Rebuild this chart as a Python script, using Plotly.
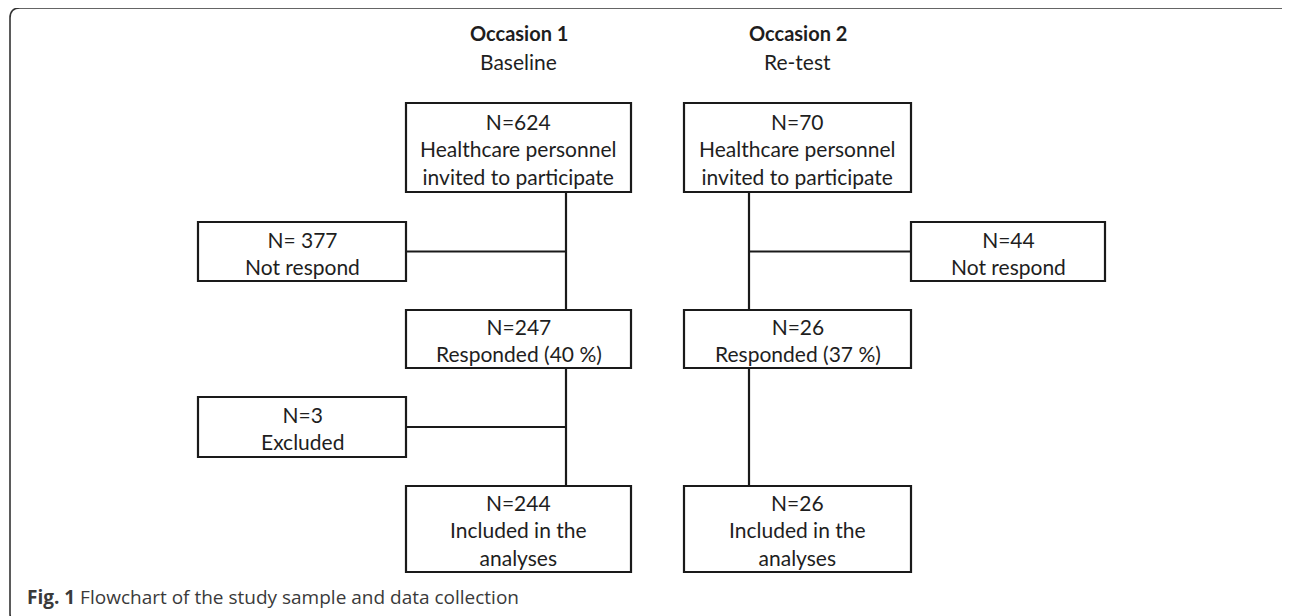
import plotly.graph_objects as go

# ---- content ----
headers_bold = ["Occasion 1", "Occasion 2"]
headers_sub = ["Baseline", "Re-test"]

main_left_n = ["N=624", "N=247", "N=244"]
main_left_txt = ["Healthcare personnel<br>invited to participate", "Responded (40 %)", "Included in the<br>analyses"]
main_right_n = ["N=70", "N=26", "N=26"]
main_right_txt = ["Healthcare personnel<br>invited to participate", "Responded (37 %)", "Included in the<br>analyses"]

side_left_n = ["N= 377", "N=3"]
side_left_txt = ["Not respond", "Excluded"]
side_right_n = ["N=44"]
side_right_txt = ["Not respond"]

caption_bold = "Fig. 1"
caption_text = "Flowchart of the study sample and data collection"

# ---- layout geometry (page pixels) ----
W, H = 1290, 616
OFF = 8  # page body margin
col_left = (406, 631)
col_right = (684, 911)
rows_y = [(103, 192), (310, 368), (486, 572)]
side_left_x = (198, 406)
side_left_y = [(222, 281), (397, 457)]
side_right_x = (911, 1105)
side_right_y = [(222, 281)]
stem_left_x = 566
stem_right_x = 749

TXT = "#1e1e1e"
LINE = "#1a1a1a"
FONT = "Lato, 'Open Sans', sans-serif"
FS = 21

fig = go.Figure()
shapes = []
annotations = []

def box(x0, x1, y0, y1, text):
    shapes.append(dict(type="rect", xref="x", yref="y", x0=x0, x1=x1, y0=y0, y1=y1,
                       line=dict(color=LINE, width=2.2), fillcolor="rgba(0,0,0,0)"))
    annotations.append(dict(x=(x0 + x1) / 2, y=(y0 + y1) / 2 + 1, xref="x", yref="y",
                            text=text, showarrow=False, font=dict(family=FONT, size=FS, color=TXT),
                            align="center", xanchor="center", yanchor="middle"))

def line(x0, y0, x1, y1):
    shapes.append(dict(type="line", xref="x", yref="y", x0=x0, y0=y0, x1=x1, y1=y1,
                       line=dict(color=LINE, width=2.2)))

for (y0, y1), n, t in zip(rows_y, main_left_n, main_left_txt):
    box(col_left[0], col_left[1], y0, y1, n + "<br>" + t)
for (y0, y1), n, t in zip(rows_y, main_right_n, main_right_txt):
    box(col_right[0], col_right[1], y0, y1, n + "<br>" + t)
for (y0, y1), n, t in zip(side_left_y, side_left_n, side_left_txt):
    box(side_left_x[0], side_left_x[1], y0, y1, n + "<br>" + t)
    line(side_left_x[1], (y0 + y1) / 2, stem_left_x, (y0 + y1) / 2)
for (y0, y1), n, t in zip(side_right_y, side_right_n, side_right_txt):
    box(side_right_x[0], side_right_x[1], y0, y1, n + "<br>" + t)
    line(stem_right_x - 1, (y0 + y1) / 2, side_right_x[0], (y0 + y1) / 2)

# stems
for i in range(len(rows_y) - 1):
    line(stem_left_x, rows_y[i][1], stem_left_x, rows_y[i + 1][0])
    line(stem_right_x, rows_y[i][1], stem_right_x, rows_y[i + 1][0])

# headers
for cx, hb, hs in zip([(col_left[0] + col_left[1]) / 2, (col_right[0] + col_right[1]) / 2],
                      headers_bold, headers_sub):
    annotations.append(dict(x=cx, y=33, xref="x", yref="y", text="<b>" + hb + "</b>", showarrow=False,
                            font=dict(family=FONT, size=20, color=TXT), xanchor="center", yanchor="middle"))
    annotations.append(dict(x=cx, y=61, xref="x", yref="y", text=hs, showarrow=False,
                            font=dict(family=FONT, size=FS, color=TXT), xanchor="center", yanchor="middle"))

# caption
annotations.append(dict(x=25, y=597, xref="x", yref="y",
                        text="<b>" + caption_bold + "</b> " + caption_text, showarrow=False,
                        font=dict(family="'Open Sans', sans-serif", size=19, color="#3a3a3a"),
                        xanchor="left", yanchor="middle"))

# outer frame (rounded, cropped at right/bottom)
r = 10
x0f, y0f, x1f, y1f = 10, 8, 1298, 624
path = (f"M {x0f},{y1f - r} L {x0f},{y0f + r} Q {x0f},{y0f} {x0f + r},{y0f} "
        f"L {x1f - r},{y0f} Q {x1f},{y0f} {x1f},{y0f + r} L {x1f},{y1f - r} "
        f"Q {x1f},{y1f} {x1f - r},{y1f} L {x0f + r},{y1f} Q {x0f},{y1f} {x0f},{y1f - r} Z")
shapes.append(dict(type="path", xref="x", yref="y", path=path, line=dict(color="#333333", width=1.6)))

fig.update_layout(
    width=W, height=H, margin=dict(l=0, r=0, t=0, b=0),
    paper_bgcolor="white", plot_bgcolor="white",
    xaxis=dict(range=[OFF, W + OFF], visible=False, fixedrange=True),
    yaxis=dict(range=[H + OFF, OFF], visible=False, fixedrange=True),
    shapes=shapes, annotations=annotations, showlegend=False,
)

fig.write_html("out.html")
